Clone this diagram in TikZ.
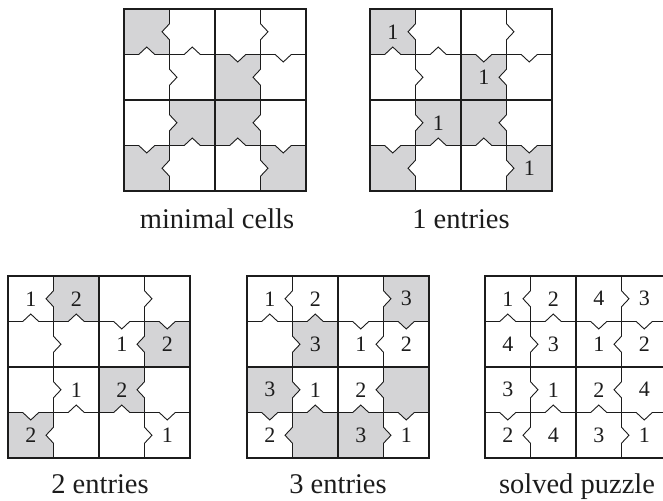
\documentclass[tikz,border=0pt]{standalone}
\usepackage{fontspec}
\setmainfont{Liberation Serif}

\definecolor{cellgray}{RGB}{212,212,214}
\definecolor{ink}{RGB}{28,28,28}

% Chevron directions of the puzzle.
% H<r><k>: edge between columns 2k-1 and 2k in row r (+1 apex right, -1 apex left)
% V<k><c>: edge between rows 2k-1 and 2k in column c (+1 apex down, -1 apex up)
\expandafter\def\csname H11\endcsname{-1}
\expandafter\def\csname H12\endcsname{1}
\expandafter\def\csname H21\endcsname{1}
\expandafter\def\csname H22\endcsname{-1}
\expandafter\def\csname H31\endcsname{1}
\expandafter\def\csname H32\endcsname{-1}
\expandafter\def\csname H41\endcsname{-1}
\expandafter\def\csname H42\endcsname{1}
\expandafter\def\csname V11\endcsname{-1}
\expandafter\def\csname V12\endcsname{-1}
\expandafter\def\csname V13\endcsname{1}
\expandafter\def\csname V14\endcsname{1}
\expandafter\def\csname V21\endcsname{1}
\expandafter\def\csname V22\endcsname{-1}
\expandafter\def\csname V23\endcsname{-1}
\expandafter\def\csname V24\endcsname{1}

\def\cellsz{45.5}  % cell size
\def\nh{8}         % half span of a chevron
\def\nd{7.5}       % depth of a chevron

\tikzset{
  thinline/.style={draw=ink, line width=0.9pt},
  thickline/.style={draw=ink, line width=2.4pt},
  digit/.style={font=\fontsize{22}{25}\selectfont, inner sep=0pt, text=ink},
  caption/.style={font=\fontsize{28.5}{32}\selectfont, inner sep=0pt, anchor=base, text=ink},
}

% grey cell (row #3, column #4) of the puzzle at (#1,#2), following its chevrons
\newcommand\shadecell[4]{%
  \pgfmathsetmacro\cxA{#1+(#4-1)*\cellsz}%
  \pgfmathsetmacro\cxB{\cxA+\cellsz}%
  \pgfmathsetmacro\cyA{#2+(#3-1)*\cellsz}%
  \pgfmathsetmacro\cyB{\cyA+\cellsz}%
  \pgfmathsetmacro\cxM{\cxA+\cellsz/2}%
  \pgfmathsetmacro\cyM{\cyA+\cellsz/2}%
  \def\oT{0}\def\oB{0}\def\oL{0}\def\oR{0}%
  \ifodd#3\relax
    \edef\oB{\csname V\the\numexpr(#3+1)/2\relax#4\endcsname}%
  \else
    \edef\oT{\csname V\the\numexpr#3/2\relax#4\endcsname}%
  \fi
  \ifodd#4\relax
    \edef\oR{\csname H#3\the\numexpr(#4+1)/2\relax\endcsname}%
  \else
    \edef\oL{\csname H#3\the\numexpr#4/2\relax\endcsname}%
  \fi
  \fill[cellgray] (\cxA,\cyA) -- ({\cxM-\nh},\cyA) -- (\cxM,{\cyA+(\oT)*\nd}) -- ({\cxM+\nh},\cyA)
    -- (\cxB,\cyA) -- (\cxB,{\cyM-\nh}) -- ({\cxB+(\oR)*\nd},\cyM) -- (\cxB,{\cyM+\nh})
    -- (\cxB,\cyB) -- ({\cxM+\nh},\cyB) -- (\cxM,{\cyB+(\oB)*\nd}) -- ({\cxM-\nh},\cyB)
    -- (\cxA,\cyB) -- (\cxA,{\cyM+\nh}) -- ({\cxA+(\oL)*\nd},\cyM) -- (\cxA,{\cyM-\nh}) -- cycle;%
}

% vertical edge with chevron, row #3, between columns 2#4-1 and 2#4
\newcommand\vnotch[4]{%
  \pgfmathsetmacro\ex{#1+(2*#4-1)*\cellsz}%
  \pgfmathsetmacro\eyA{#2+(#3-1)*\cellsz}%
  \pgfmathsetmacro\eyM{\eyA+\cellsz/2}%
  \edef\edir{\csname H#3#4\endcsname}%
  \draw[thinline] (\ex,\eyA) -- (\ex,{\eyM-\nh}) -- ({\ex+(\edir)*\nd},\eyM)
    -- (\ex,{\eyM+\nh}) -- (\ex,{\eyA+\cellsz});%
}

% horizontal edge with chevron, column #4, between rows 2#3-1 and 2#3
\newcommand\hnotch[4]{%
  \pgfmathsetmacro\ey{#2+(2*#3-1)*\cellsz}%
  \pgfmathsetmacro\exA{#1+(#4-1)*\cellsz}%
  \pgfmathsetmacro\exM{\exA+\cellsz/2}%
  \edef\edir{\csname V#3#4\endcsname}%
  \draw[thinline] (\exA,\ey) -- ({\exM-\nh},\ey) -- (\exM,{\ey+(\edir)*\nd})
    -- ({\exM+\nh},\ey) -- ({\exA+\cellsz},\ey);%
}

% chevron lines and box borders of a puzzle at (#1,#2)
\newcommand\puzzlegrid[2]{%
  \foreach \rr in {1,...,4} {\foreach \kk in {1,2} {\vnotch{#1}{#2}{\rr}{\kk}}}%
  \foreach \kk in {1,2} {\foreach \cc in {1,...,4} {\hnotch{#1}{#2}{\kk}{\cc}}}%
  \draw[thickline] (#1,#2) rectangle ({#1+4*\cellsz},{#2+4*\cellsz});%
  \draw[thickline] ({#1+2*\cellsz},#2) -- ({#1+2*\cellsz},{#2+4*\cellsz});%
  \draw[thickline] (#1,{#2+2*\cellsz}) -- ({#1+4*\cellsz},{#2+2*\cellsz});%
}

% digit #5 in row #3, column #4 of the puzzle at (#1,#2), node name #6
\newcommand\entry[6]{%
  \node[digit] (#6) at ({#1+(#4-0.5)*\cellsz},{#2+(#3-0.5)*\cellsz}) {#5};%
}

\begin{document}
\begin{tikzpicture}[x=1pt, y=-1pt]
\clip (0,0) rectangle (663,500);

% minimal cells
\foreach \sr/\sc in {1/1,2/3,3/2,3/3,4/1,4/4} {\shadecell{124}{9}{\sr}{\sc}}
\puzzlegrid{124}{9}
\node[caption] (capA) at (217,228) {minimal cells};

% 1 entries
\foreach \sr/\sc in {1/1,2/3,3/2,3/3,4/1,4/4} {\shadecell{370}{9}{\sr}{\sc}}
\puzzlegrid{370}{9}
\foreach \nr/\nc/\nv in {1/1/1,2/3/1,3/2/1,4/4/1} {\entry{370}{9}{\nr}{\nc}{\nv}{b-\nr-\nc}}
\node[caption] (capB) at (461,228) {1 entries};

% 2 entries
\foreach \sr/\sc in {1/2,2/4,3/3,4/1} {\shadecell{8}{276}{\sr}{\sc}}
\puzzlegrid{8}{276}
\foreach \nr/\nc/\nv in {1/1/1,1/2/2,2/3/1,2/4/2,3/2/1,3/3/2,4/1/2,4/4/1}
  {\entry{8}{276}{\nr}{\nc}{\nv}{c-\nr-\nc}}
\node[caption] (capC) at (100,493) {2 entries};

% 3 entries
\foreach \sr/\sc in {1/4,2/2,3/1,3/4,4/2,4/3} {\shadecell{247}{276}{\sr}{\sc}}
\puzzlegrid{247}{276}
\foreach \nr/\nc/\nv in {1/1/1,1/2/2,1/4/3,2/2/3,2/3/1,2/4/2,3/1/3,3/2/1,3/3/2,4/1/2,4/3/3,4/4/1}
  {\entry{247}{276}{\nr}{\nc}{\nv}{d-\nr-\nc}}
\node[caption] (capD) at (338,493) {3 entries};

% solved puzzle
\puzzlegrid{485}{276}
\foreach \nr/\nc/\nv in {1/1/1,1/2/2,1/3/4,1/4/3,2/1/4,2/2/3,2/3/1,2/4/2,
                         3/1/3,3/2/1,3/3/2,3/4/4,4/1/2,4/2/4,4/3/3,4/4/1}
  {\entry{485}{276}{\nr}{\nc}{\nv}{e-\nr-\nc}}
\node[caption] (capE) at (577,493) {solved puzzle};
\end{tikzpicture}
\end{document}
